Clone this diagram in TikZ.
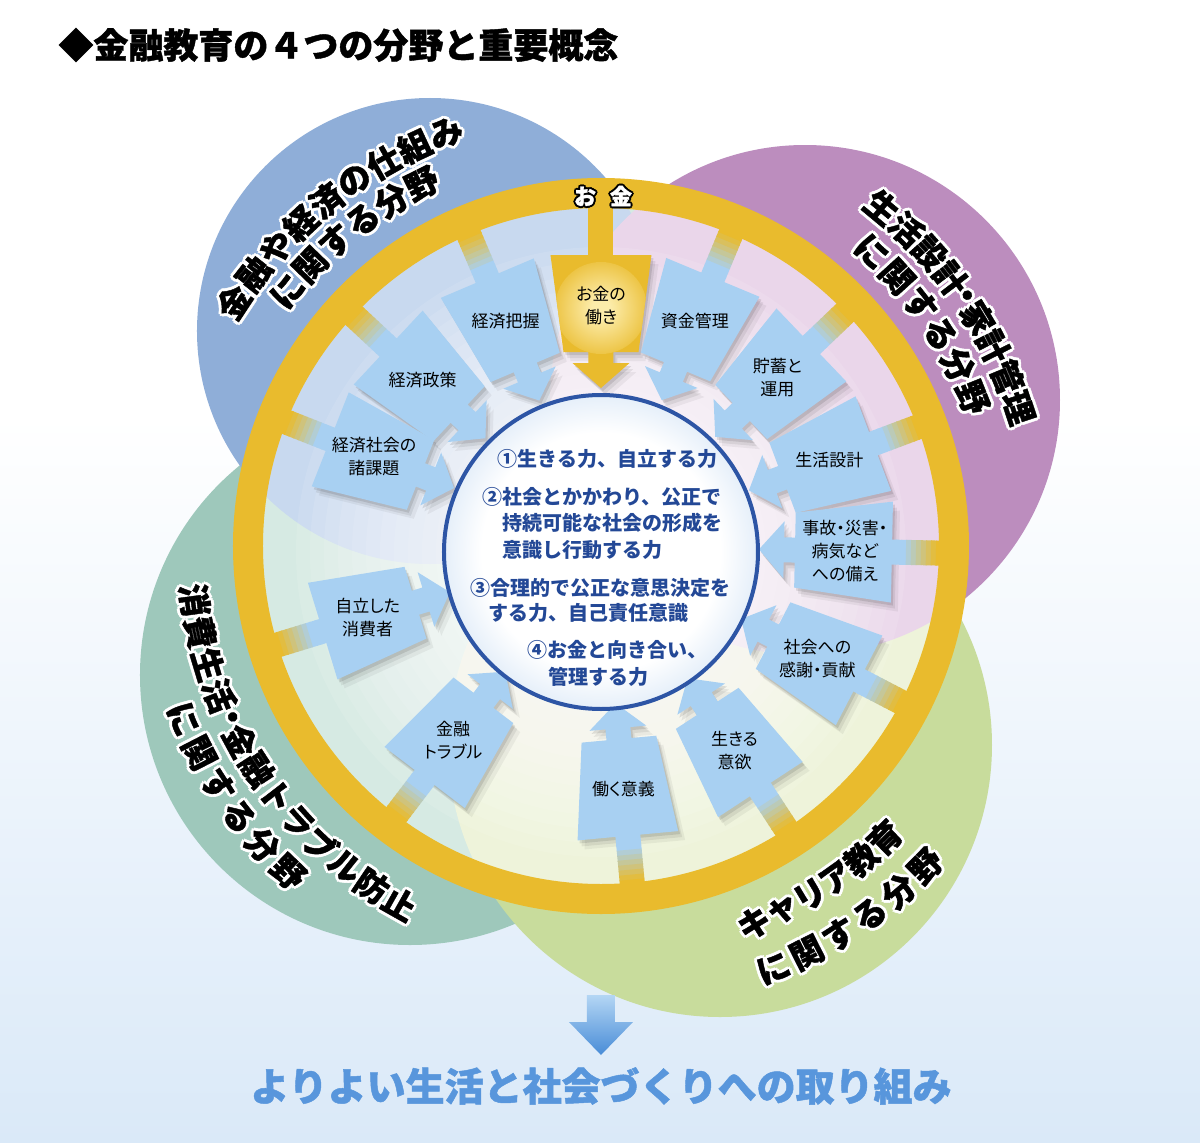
\documentclass[tikz,border=0pt]{standalone}
\usepackage{fontspec}
\setmainfont{Noto Sans CJK JP}
\newfontfamily\jpp{Noto Sans CJK JP}[RawFeature=+palt]
\newfontfamily\heavy{Noto Sans CJK JP}[BoldFeatures={FakeBold=1.2}]
\usetikzlibrary{calc}

\definecolor{gold}{RGB}{233,187,45}
\definecolor{glowc}{RGB}{252,236,170}
\definecolor{arrowblue}{RGB}{168,208,242}
\definecolor{bluecirc}{RGB}{143,174,216}
\definecolor{purplecirc}{RGB}{188,141,190}
\definecolor{tealcirc}{RGB}{158,200,187}
\definecolor{greencirc}{RGB}{200,220,156}
\definecolor{bluetint}{RGB}{200,217,239}
\definecolor{pinktint}{RGB}{234,214,234}
\definecolor{tealtint}{RGB}{214,234,227}
\definecolor{greentint}{RGB}{238,243,218}
\definecolor{innerblue}{RGB}{186,212,240}
\definecolor{circborder}{RGB}{45,85,165}
\definecolor{textblue}{RGB}{35,72,150}
\definecolor{bgblue}{RGB}{218,233,248}
\definecolor{goalblue}{RGB}{88,150,220}
\definecolor{arrtop}{RGB}{180,214,244}
\definecolor{arrbot}{RGB}{72,140,215}

\pgfdeclareradialshading{innerglow}{\pgfpoint{0bp}{0bp}}{color(0bp)=(white); color(19bp)=(white); color(35bp)=(innerblue); color(50bp)=(innerblue)}
\pgfdeclareradialshading{goldglow}{\pgfpoint{0bp}{0bp}}{color(0bp)=(glowc); color(5bp)=(glowc); color(30bp)=(gold); color(50bp)=(gold)}

\newlength\hw
\setlength\hw{1.5pt}
\newcommand\hal[3]{\leavevmode
 \rlap{\kern\hw\textcolor{#1}{#3}}%
 \rlap{\kern-\hw\textcolor{#1}{#3}}%
 \rlap{\raisebox{\hw}{\textcolor{#1}{#3}}}%
 \rlap{\raisebox{-\hw}{\textcolor{#1}{#3}}}%
 \rlap{\kern0.7\hw\raisebox{0.7\hw}{\textcolor{#1}{#3}}}%
 \rlap{\kern0.7\hw\raisebox{-0.7\hw}{\textcolor{#1}{#3}}}%
 \rlap{\kern-0.7\hw\raisebox{0.7\hw}{\textcolor{#1}{#3}}}%
 \rlap{\kern-0.7\hw\raisebox{-0.7\hw}{\textcolor{#1}{#3}}}%
 \textcolor{#2}{#3}}

\def\arrowpath{(291,50.5) -- (194,37.5) -- (194,12.5) -- (183,12.5) -- (183,28.5) -- (158,0) -- (183,-28.5) -- (183,-12.5) -- (194,-12.5) -- (194,-37.5) -- (291,-50.5) -- cycle}

\newcommand\ashadow[1]{%
 \begin{scope}[shift={(2,-3)},rotate=#1]\fill[black,opacity=0.10] \arrowpath;\end{scope}
 \begin{scope}[shift={(4,-6)},rotate=#1]\fill[black,opacity=0.07] \arrowpath;\end{scope}
 \begin{scope}[shift={(7,-9)},rotate=#1]\fill[black,opacity=0.05] \arrowpath;\end{scope}}

\newcommand\abody[3]{%
 \begin{scope}[rotate=#1]
  \foreach \k in {0,...,9}{\pgfmathtruncatemacro\pc{max(0,min(100,(\k-2)*15))}\fill[gold!\pc!arrowblue] ({290+5*\k},-12.5) rectangle ({296+5*\k},12.5);}
  \fill[arrowblue] \arrowpath;
 \end{scope}
 \node[arrowtext] (#2) at (#1:244) {#3};}

\newcommand\arcline[6]{%
 \foreach \cchar [count=\ii from 0] in {#6}{%
  \pgfmathsetmacro\ang{#2+\ii*(#3)}%
  \pgfmathsetmacro\rot{\ang+(#5)}%
  \node[labelchar, rotate=\rot] (#1\ii) at (\ang:#4) {\hal{white}{black}{\cchar}};}}

\begin{document}
\begin{tikzpicture}[x=0.5pt,y=0.5pt,
  arrowtext/.style={font=\jpp\fontsize{8.5pt}{11.5pt}\selectfont, align=center, inner sep=0pt, text=black},
  labelchar/.style={font=\heavy\fontsize{16.5pt}{16.5pt}\selectfont\bfseries, inner sep=0pt},
  innertext/.style={font=\fontsize{10pt}{10pt}\selectfont\bfseries, text=textblue, anchor=west, inner sep=0pt}]

\useasboundingbox (-601,-596) rectangle (599,546);
\fill[white] (-601,-596) rectangle (599,546);
\shade[top color=white, bottom color=bgblue] (-601,-596) rectangle (599,130);

% big field circles
\fill[tealcirc] (-191,-129) circle (270);
\fill[greencirc] (119,-199) circle (272);
\fill[bluecirc] (-171,215) circle (233);
\fill[purplecirc] (204,146) circle (255);

% tinted interior
\begin{scope}
 \clip (0,0) circle (340);
 \fill[tealtint] (0,0) circle (340);
 \fill[greentint] (119,-199) circle (272);
 \fill[bluetint] (-171,215) circle (233);
 \fill[pinktint] (204,146) circle (255);
 \foreach \rr in {305,291,...,160} \fill[white,opacity=0.1] (0,-6) circle (\rr);
\end{scope}

% gold ring
\fill[gold, even odd rule] (0,0) circle (368) (0,0) circle (338);

% arrow shadows
\foreach \t in {90,67.4,43.7,20.6,-1.2,-27.5,-56.8,-84.7,-127.3,-163,158.5,137,113} {\ashadow{\t}}

% gold arrow
\begin{scope}[rotate=90]
 \fill[gold] (288,-12.5) rectangle (345,12.5);
 \fill[gold] \arrowpath;
 \begin{scope}\clip \arrowpath; \shade[shading=goldglow] (238,0) circle (46);\end{scope}
\end{scope}
\node[arrowtext] (a0) at (90:240) {お金の\\働き};

% blue arrows
\abody{67.4}{a1}{資金管理}
\abody{43.7}{a2}{貯蓄と\\運用}
\abody{20.6}{a3}{生活設計}
\abody{-1.2}{a4}{事故・災害・\\病気など\\への備え}
\abody{-27.5}{a5}{社会への\\感謝・貢献}
\abody{-56.8}{a6}{生きる\\意欲}
\abody{-84.7}{a7}{働く意義}
\abody{-127.3}{a8}{金融\\トラブル}
\abody{-163}{a9}{自立した\\消費者}
\abody{158.5}{a10}{経済社会の\\諸課題}
\abody{137}{a11}{経済政策}
\abody{113}{a12}{経済把握}

% ring label
\setlength\hw{1pt}
\node[font=\heavy\fontsize{11pt}{11pt}\selectfont\bfseries, inner sep=0pt] (okane) at (2,350) {\hal{black}{white}{お}\hspace{7pt}\hal{black}{white}{金}};
\setlength\hw{1.5pt}

% inner circle
\shade[shading=innerglow] (0,-6) circle (157);
\draw[circborder, line width=2pt] (0,-6) circle (157);
\node[innertext] (c1) at (-104,87) {①生きる力、自立する力};
\node[innertext] (c2) at (-119,49) {②社会とかかわり、公正で};
\node[innertext] (c3) at (-99,23) {持続可能な社会の形成を};
\node[innertext] (c4) at (-99,-4) {意識し行動する力};
\node[innertext] (c5) at (-131,-42) {③合理的で公正な意思決定を};
\node[innertext] (c6) at (-113,-67) {する力、自己責任意識};
\node[innertext] (c7) at (-74,-104) {④お金と向き合い、};
\node[innertext] (c8) at (-53,-131) {管理する力};

% field labels
\arcline{fa}{146.4}{-4.48}{441}{-90}{金,融,や,経,済,の,仕,組,み}
\arcline{fb}{140.9}{-4.92}{404}{-90}{に,関,す,る,分,野}
\arcline{fc}{50.3}{-4.3}{440}{-90}{生,活,設,計}
\arcline{fcd}{34.4}{0}{440}{-90}{・}
\arcline{fce}{31.2}{-4.3}{440}{-90}{家,計,管,理}
\arcline{fd}{47.4}{-5.12}{400}{-90}{に,関,す,る,分,野}
\arcline{fe}{187.6}{4.6}{410}{90}{消,費,生,活}
\arcline{fed}{204.9}{0}{410}{90}{・}
\arcline{fee}{208.4}{4.6}{410}{90}{金,融,ト,ラ,ブ,ル,防,止}
\arcline{ff}{202.5}{4.74}{452}{90}{に,関,す,る,分,野}
\arcline{fg}{-67.9}{4.42}{407}{90}{キ,ャ,リ,ア,教,育}
\arcline{fh}{-67.8}{4.64}{456}{90}{に,関,す,る,分,野}

% title
\node[anchor=west, inner sep=0pt, font=\heavy\fontsize{17.5pt}{17.5pt}\selectfont\bfseries] (title) at (-543,501) {◆金融教育の４つの分野と重要概念};

% bottom arrow and goal
\shade[top color=arrtop, bottom color=arrbot] (-14,-449) -- (14,-449) -- (14,-476) -- (32,-476) -- (0,-509) -- (-32,-476) -- (-14,-476) -- cycle;
\node[inner sep=0pt, font=\heavy\fontsize{19.5pt}{19.5pt}\selectfont\bfseries, text=goalblue] (goal) at (0,-540) {よりよい生活と社会づくりへの取り組み};
\end{tikzpicture}
\end{document}
